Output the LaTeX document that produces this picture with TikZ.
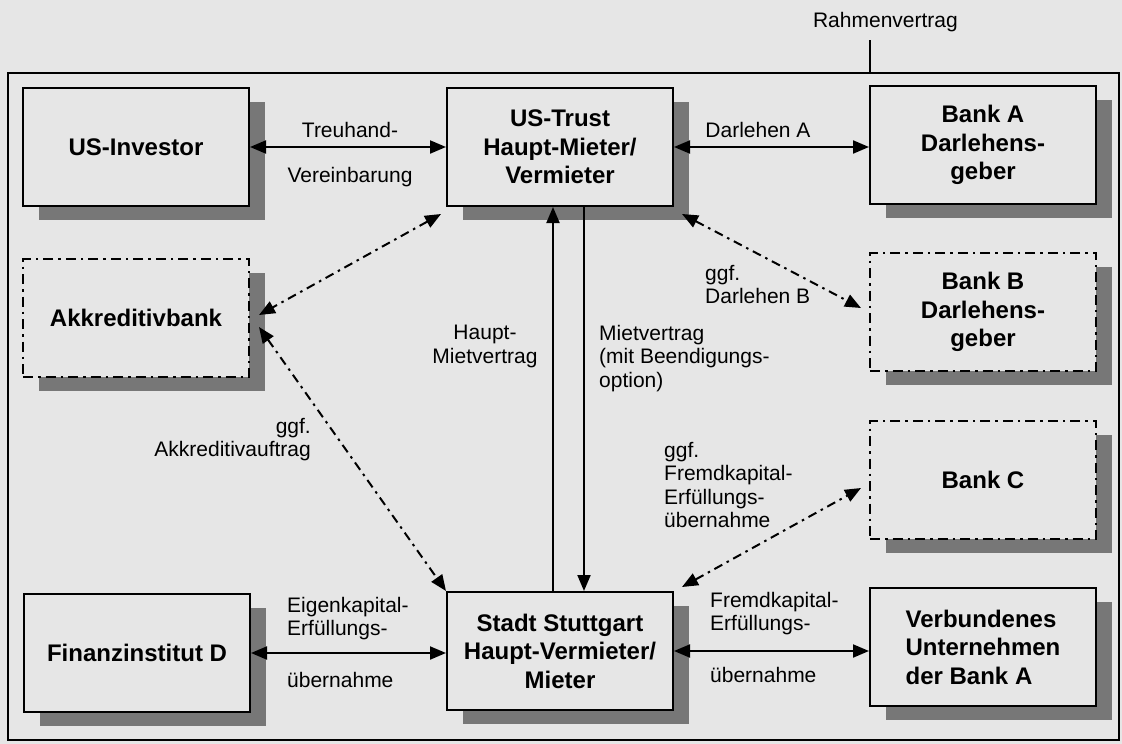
\documentclass[tikz,border=0pt]{standalone}
\usepackage{fontspec}
\setmainfont{Liberation Sans}
\usetikzlibrary{arrows.meta,shadows}

\definecolor{paper}{HTML}{E6E6E6}
\definecolor{shade}{HTML}{777777}

\tikzset{
	box/.style={draw, line width=2pt, fill=paper, minimum width=226pt, minimum height=118pt,
		align=center, font=\fontsize{24}{28.5}\selectfont\bfseries,
		drop shadow={shadow xshift=16pt, shadow yshift=-14pt, fill=shade, opacity=1}},
	optbox/.style={box, dash pattern=on 10pt off 5pt on 2.5pt off 5pt},
	lbl/.style={font=\fontsize{21}{23.5}\selectfont, inner sep=0pt},
	conn/.style={line width=2pt, {Triangle[length=16pt,width=13pt]}-{Triangle[length=16pt,width=13pt]}},
	optconn/.style={conn, dash pattern=on 9pt off 5pt on 2.5pt off 5pt},
	oneway/.style={line width=2pt, -{Triangle[length=16pt,width=13pt]}}
}

\begin{document}
\begin{tikzpicture}[x=1pt,y=-1pt]
	\useasboundingbox (0,0) rectangle (1122,744);
	\fill[paper] (0,0) rectangle (1122,744);

	% Rahmen
	\draw[line width=2pt] (8,73) rectangle (1119,740);
	\node (rahmen)[lbl, anchor=north east] at (958,12) {Rahmenvertrag};
	\coordinate (rtop) at (870,40);
	\coordinate (rbot) at (870,73);
	\draw[line width=1.6pt] (rtop) -- (rbot);

	% Parteien
	\node (inv)[box] at (136,147) {US-Investor};
	\node (trust)[box] at (560,147) {US-Trust\\Haupt-Mieter/\\Vermieter};
	\node (banka)[box] at (983,145) {Bank A\\Darlehens-\\geber};
	\node (akk)[optbox] at (136,318) {Akkreditivbank};
	\node (bankb)[optbox] at (983,312) {Bank B\\Darlehens-\\geber};
	\node (bankc)[optbox] at (983,480) {Bank C};
	\node (fin)[box] at (137,653) {Finanzinstitut D};
	\node (stadt)[box] at (560,651) {Stadt Stuttgart\\Haupt-Vermieter/\\Mieter};
	\node (verb)[box, align=left] at (983,647) {Verbundenes\\Unternehmen\\der Bank A};

	% Vertraege
	\draw[conn] (inv.east) -- (trust.west);
	\draw[conn] (trust.east) -- (trust.east -| banka.west);
	\draw[conn] (fin.east) -- (fin.east -| stadt.west);
	\draw[conn] (stadt.east) -- (stadt.east -| verb.west);
	\draw[oneway] ([xshift=-7pt]stadt.north) -- ([xshift=-7pt]trust.south);
	\draw[oneway] ([xshift=24pt]trust.south) -- ([xshift=24pt]stadt.north);
	\draw[optconn] ([xshift=-5pt,yshift=-7pt]trust.south west) -- ([xshift=9pt,yshift=3pt]akk.east);
	\draw[optconn] ([xshift=9pt,yshift=-9pt]akk.east) -- (stadt.north west);
	\draw[optconn] ([xshift=8pt,yshift=-7pt]trust.south east) -- ([xshift=-8pt,yshift=4pt]bankb.west);
	\draw[optconn] ([xshift=8pt,yshift=4pt]stadt.north east) -- ([xshift=-8pt,yshift=-8pt]bankc.west);

	% Beschriftungen
	\node (treu)[lbl, anchor=north] at (350,122) {Treuhand-};
	\node (verein)[lbl, anchor=north] at (350,167) {Vereinbarung};
	\node (darla)[lbl, anchor=north] at (758,122) {Darlehen A};
	\node (darlb)[lbl, anchor=north west, align=left] at (705,265) {ggf.\\Darlehen B};
	\node (akkauf)[lbl, anchor=north east, align=right] at (311,418) {ggf.\\Akkreditivauftrag};
	\node (hmv)[lbl, anchor=north, align=center] at (485,325) {Haupt-\\Mietvertrag};
	\node (mv)[lbl, anchor=north west, align=left] at (599,325) {Mietvertrag\\(mit Beendigungs-\\option)};
	\node (fkc)[lbl, anchor=north west, align=left] at (664,442) {ggf.\\Fremdkapital-\\Erfüllungs-\\übernahme};
	\node (ek)[lbl, anchor=north west, align=left] at (287,597) {Eigenkapital-\\Erfüllungs-};
	\node (eku)[lbl, anchor=north west] at (287,672) {übernahme};
	\node (fk)[lbl, anchor=north west, align=left] at (710,592) {Fremdkapital-\\Erfüllungs-};
	\node (fku)[lbl, anchor=north west] at (710,667) {übernahme};
\end{tikzpicture}
\end{document}
